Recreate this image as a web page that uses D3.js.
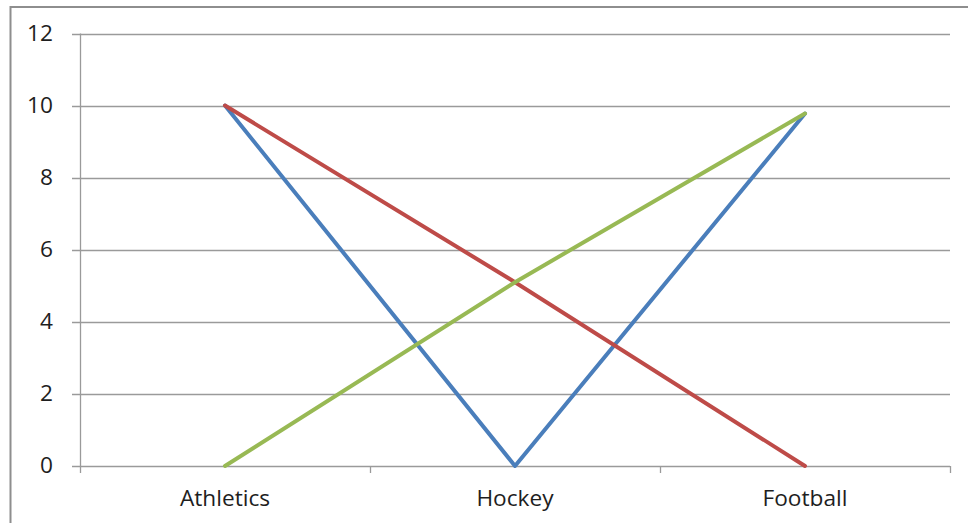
<!DOCTYPE html>
<html>
<head>
<meta charset="utf-8">
<script src="https://cdn.jsdelivr.net/npm/d3@7"></script>
<style>
  body { margin: 0; background: #fff; }
  svg { display: block; font-family: "Open Sans", "Liberation Sans", sans-serif; }
</style>
</head>
<body>
<div id="chart"></div>
<script>
// chart data
const categories = ["Athletics", "Hockey", "Football"];
const blueValues = [10, 0, 9.78];
const redValues = [10, 5.1, 0];
const greenValues = [0, 5.1, 9.78];
const yTicks = [0, 2, 4, 6, 8, 10, 12];

const series = [
  { name: "blue", values: blueValues, color: "#4a7ebb" },
  { name: "red", values: redValues, color: "#be4b48" },
  { name: "green", values: greenValues, color: "#98b954" }
];

const width = 968, height = 523;
const margin = { left: 80, right: 18, top: 33.5, bottom: 57 };
const stretch = 1.08; // labels in the picture are a bit wide

const svg = d3.select("#chart").append("svg")
  .attr("width", width)
  .attr("height", height);

// outer frame (runs off the right and bottom edges)
svg.append("rect")
  .attr("x", 10.5).attr("y", 7)
  .attr("width", width + 20).attr("height", height + 20)
  .attr("fill", "none")
  .attr("stroke", "#8e8e8e")
  .attr("stroke-width", 2);

const x = d3.scaleBand()
  .domain(categories)
  .range([margin.left, width - margin.right]);

const y = d3.scaleLinear()
  .domain([0, 12])
  .range([height - margin.bottom, margin.top]);

// gridlines
svg.append("g")
  .selectAll("line")
  .data(yTicks)
  .enter()
  .append("line")
  .attr("x1", margin.left - 8)
  .attr("x2", width - margin.right)
  .attr("y1", (d) => Math.round(y(d)) + 0.5)
  .attr("y2", (d) => Math.round(y(d)) + 0.5)
  .attr("stroke", "#9a9a9a")
  .attr("stroke-width", 1.3);

// y axis line
svg.append("line")
  .attr("x1", margin.left + 0.5).attr("x2", margin.left + 0.5)
  .attr("y1", y(12)).attr("y2", y(0))
  .attr("stroke", "#9a9a9a")
  .attr("stroke-width", 1.3);

// y tick labels
svg.append("g")
  .selectAll("text")
  .data(yTicks)
  .enter()
  .append("text")
  .attr("transform", (d) => `translate(53,${y(d)}) scale(${stretch},1)`)
  .attr("dy", "0.34em")
  .attr("text-anchor", "end")
  .attr("font-size", 21)
  .attr("fill", "#1e1e1e")
  .text((d) => d);

// x tick marks at band edges
const edges = categories.map((c) => x(c)).concat([x.range()[1]]);
svg.append("g")
  .selectAll("line")
  .data(edges)
  .enter()
  .append("line")
  .attr("x1", (d) => Math.round(d) + 0.5)
  .attr("x2", (d) => Math.round(d) + 0.5)
  .attr("y1", y(0))
  .attr("y2", y(0) + 7)
  .attr("stroke", "#9a9a9a")
  .attr("stroke-width", 1.3);

// category labels
svg.append("g")
  .selectAll("text")
  .data(categories)
  .enter()
  .append("text")
  .attr("transform", (d) =>
    `translate(${x(d) + x.bandwidth() / 2},${y(0) + 40}) scale(${stretch},1)`)
  .attr("text-anchor", "middle")
  .attr("font-size", 21)
  .attr("fill", "#1e1e1e")
  .text((d) => d);

// lines
const line = d3.line()
  .x((d, i) => x(categories[i]) + x.bandwidth() / 2)
  .y((d) => y(d));

svg.append("g")
  .selectAll("path")
  .data(series)
  .enter()
  .append("path")
  .attr("d", (d) => line(d.values))
  .attr("fill", "none")
  .attr("stroke", (d) => d.color)
  .attr("stroke-width", 4)
  .attr("stroke-linejoin", "round")
  .attr("stroke-linecap", "round");
</script>
</body>
</html>
